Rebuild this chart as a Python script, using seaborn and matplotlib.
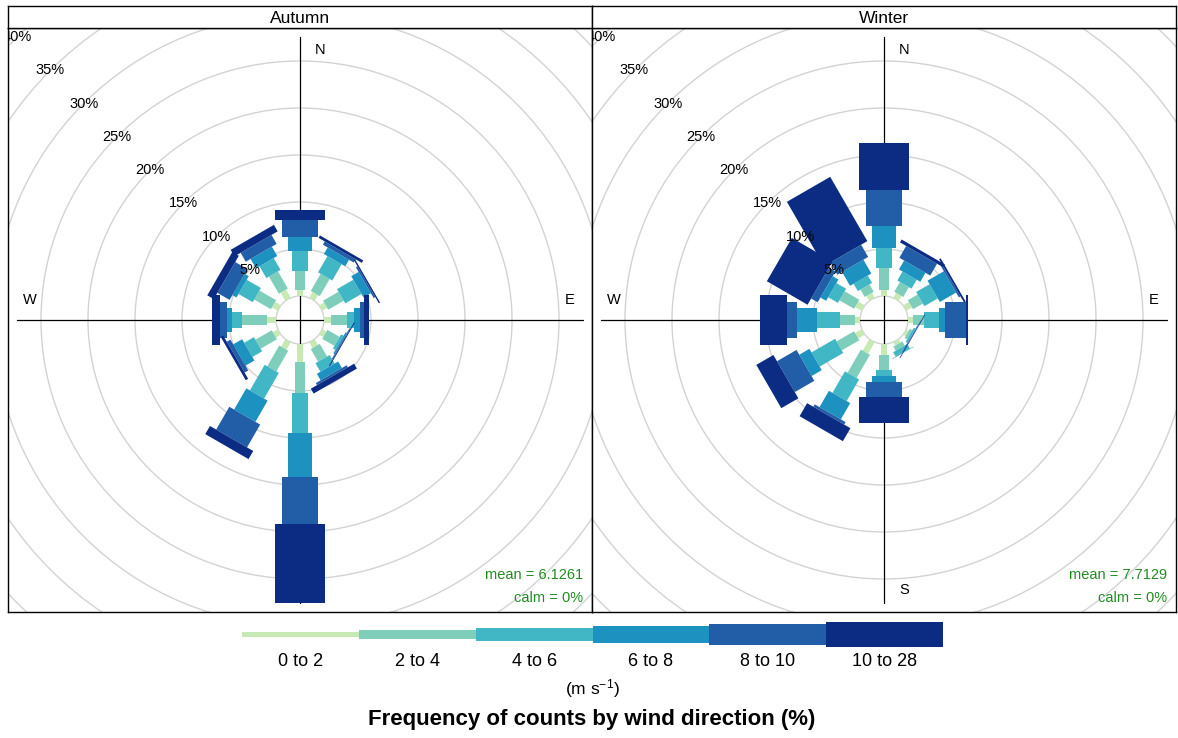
import numpy as np
import matplotlib
matplotlib.use("Agg")
import matplotlib.pyplot as plt
import seaborn as sns
from matplotlib.patches import Polygon, Circle

sns.set_style("white")
plt.rcParams['font.family'] = ['Liberation Sans', 'DejaVu Sans']
plt.rcParams['mathtext.default'] = 'regular'
plt.rcParams['text.color'] = 'black'

# ---------------- data ----------------
directions = [0, 30, 60, 90, 120, 150, 180, 210, 240, 270, 300, 330]
speed_bins = ["0 to 2", "2 to 4", "4 to 6", "6 to 8", "8 to 10", "10 to 28"]
bin_colors = ["#c7e9b4", "#7fcdbb", "#41b6c4", "#1d91c0", "#225ea8", "#0c2c84"]

# cumulative frequency (%) at the top of each speed band, per direction
autumn_cum = [
    [0.65, 2.7, 4.8, 6.3, 8.1, 9.2],      # N
    [0.7, 2.8, 4.8, 5.6, 6.0, 6.3],       # 30
    [0.6, 2.5, 4.5, 5.4, 5.6, 5.75],      # 60
    [0.7, 2.4, 3.2, 3.8, 4.25, 4.75],     # E
    [0.5, 2.0, 2.3, 2.45, 2.55, 2.65],    # 120
    [0.7, 2.25, 3.3, 4.1, 4.35, 4.95],    # 150
    [1.9, 5.2, 9.5, 14.1, 19.1, 27.6],    # S
    [0.9, 3.45, 6.6, 9.2, 12.0, 13.0],    # 210
    [0.6, 2.6, 3.8, 4.9, 5.35, 5.65],     # 240
    [0.95, 3.6, 4.7, 5.2, 6.0, 6.85],     # W
    [0.7, 2.75, 4.5, 5.0, 6.5, 7.3],      # 300
    [1.0, 3.1, 4.55, 5.7, 6.8, 7.6],      # 330
]
winter_cum = [
    [0.65, 2.95, 5.1, 7.4, 11.3, 16.3],   # N
    [0.6, 1.8, 2.9, 4.0, 5.45, 5.8],      # 30
    [0.7, 1.9, 3.55, 5.55, 5.75, 5.95],   # 60
    [0.55, 1.7, 3.3, 3.9, 6.2, 6.4],      # E
    [0.3, 0.6, 0.8, 0.85, 0.9, 0.97],     # 120
    [0.4, 0.9, 1.45, 1.5, 1.5, 1.5],      # 150
    [1.2, 2.75, 3.45, 4.0, 5.6, 8.4],     # S
    [1.4, 4.25, 6.9, 8.9, 9.2, 10.8],     # 210
    [0.8, 2.95, 5.85, 7.1, 9.5, 11.6],    # 240
    [0.5, 2.1, 4.6, 6.7, 7.8, 10.6],      # W
    [0.8, 2.6, 3.8, 4.5, 5.3, 10.3],      # 300
    [0.6, 1.5, 2.4, 4.1, 5.6, 13.5],      # 330
]
panels = ["Autumn", "Winter"]
panel_data = [autumn_cum, winter_cum]
mean_labels = ["mean = 6.1261", "mean = 7.7129"]
calm_labels = ["calm = 0%", "calm = 0%"]
grid_levels = [5, 10, 15, 20, 25, 30, 35, 40]

# ---------------- geometry / style ----------------
W, H = 1178, 738
PX = 9.4            # pixels per percent
OFF = 24 / PX       # hole in the middle
HALF = 292 / PX     # half width of a panel in data units
box_w = np.linspace(0.002 ** 0.25, 0.016 ** 0.25, len(speed_bins)) ** 4
half_w = box_w / box_w.max() * 25 / PX

fig = plt.figure(figsize=(W / 100, H / 100), dpi=100)


def fx(px):
    return px / W


def fy(py):
    return 1 - py / H


panel_left = [8, 592]
for k, name in enumerate(panels):
    x0 = panel_left[k]
    ax = fig.add_axes([fx(x0), fy(612), 584 / W, 584 / H])
    ax.set_xlim(-HALF, HALF)
    ax.set_ylim(-HALF, HALF)
    ax.set_aspect('equal')
    ax.set_xticks([])
    ax.set_yticks([])
    for s in ax.spines.values():
        s.set_color('black')
        s.set_linewidth(1.0)

    # grid rings
    ax.add_patch(Circle((0, 0), OFF, fill=False, ec='#d3d3d3', lw=1.0, zorder=1))
    for g in grid_levels:
        ax.add_patch(Circle((0, 0), OFF + g, fill=False, ec='#d3d3d3', lw=1.0, zorder=1))
    # axis lines
    L = 283 / PX
    ax.plot([-L, L], [0, 0], color='black', lw=0.9, zorder=2)
    ax.plot([0, 0], [-L, L], color='black', lw=0.9, zorder=2)
    lab = 270 / PX
    d2 = 20 / PX
    ax.text(d2, lab, "N", ha='center', va='center', fontsize=10.5, zorder=2)
    ax.text(lab, d2, "E", ha='center', va='center', fontsize=10.5, zorder=2)
    ax.text(d2, -lab, "S", ha='center', va='center', fontsize=10.5, zorder=2)
    ax.text(-lab, d2, "W", ha='center', va='center', fontsize=10.5, zorder=2)

    # bars
    cum = panel_data[k]
    for di, wd in enumerate(directions):
        th = np.deg2rad(wd)
        u = np.array([np.sin(th), np.cos(th)])
        p = np.array([np.cos(th), -np.sin(th)])
        prev = 0.0
        for j, top in enumerate(cum[di]):
            if top > prev:
                r1, r2 = OFF + prev, OFF + top
                hw = half_w[j]
                pts = [u * r1 - p * hw, u * r1 + p * hw, u * r2 + p * hw, u * r2 - p * hw]
                ax.add_patch(Polygon(pts, closed=True, fc=bin_colors[j], ec='none',
                                     zorder=3 + j * 0.01))
            prev = max(prev, top)

    # percentage labels along NW direction
    for g in grid_levels:
        r = OFF + g
        ax.text(-r * np.sin(np.pi / 4), r * np.cos(np.pi / 4), f"{g}%",
                ha='center', va='center', fontsize=10.5, zorder=5, clip_on=True)

    ax.text(0.985, 0.063, mean_labels[k], transform=ax.transAxes, ha='right',
            va='center', fontsize=10.5, color='forestgreen', zorder=6)
    ax.text(0.985, 0.024, calm_labels[k], transform=ax.transAxes, ha='right',
            va='center', fontsize=10.5, color='forestgreen', zorder=6)

    # strip
    sax = fig.add_axes([fx(x0), fy(28), 584 / W, 22 / H])
    sax.set_xticks([])
    sax.set_yticks([])
    for s in sax.spines.values():
        s.set_color('black')
        s.set_linewidth(1.0)
    sax.text(0.5, 0.45, name, ha='center', va='center', fontsize=12.5,
             transform=sax.transAxes)

# ---------------- key ----------------
kax = fig.add_axes([fx(242), fy(648), 701 / W, 28 / H])
kax.set_xlim(0, len(speed_bins))
kax.set_ylim(-14, 14)
kax.axis('off')
key_heights = [5, 9, 13, 17, 21, 25]
for j, lab in enumerate(speed_bins):
    h = key_heights[j]
    kax.add_patch(plt.Rectangle((j, -h / 2), 1, h, fc=bin_colors[j], ec='none'))
    fig.text(fx(242 + 701 / 6 * (j + 0.5)), fy(662), lab, ha='center', va='center',
             fontsize=13)
fig.text(fx(592), fy(689), "(m s$^{-1}$)", ha='center', va='center', fontsize=12.5)
fig.text(fx(592), fy(720), "Frequency of counts by wind direction (%)", ha='center',
         va='center', fontsize=16, fontweight='bold')

fig.savefig("out.png", dpi=100)
